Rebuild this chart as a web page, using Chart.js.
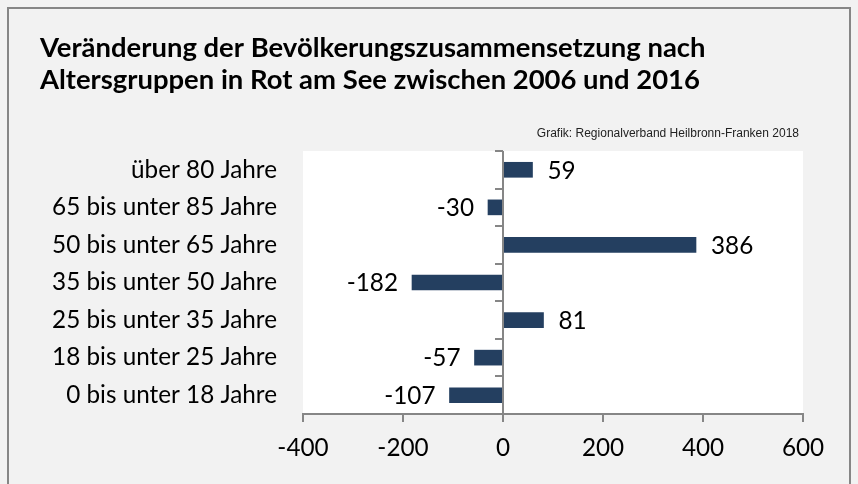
<!DOCTYPE html>
<html>
<head>
<meta charset="utf-8">
<script src="https://cdn.jsdelivr.net/npm/chart.js@4.4.1/dist/chart.umd.min.js"></script>
<style>
  html, body { margin: 0; padding: 0; background: #f2f2f2; }
  #wrap { width: 858px; height: 484px; position: relative; }
</style>
</head>
<body>
<div id="wrap"><canvas id="bar-chart"></canvas></div>
<script>
const categories = [
    'über 80 Jahre',
    '65 bis unter 85 Jahre',
    '50 bis unter 65 Jahre',
    '35 bis unter 50 Jahre',
    '25 bis unter 35 Jahre',
    '18 bis unter 25 Jahre',
    '0 bis unter 18 Jahre'
];
const changes = [ 59, -30, 386, -182, 81, -57, -107 ];
const xTicks = [ -400, -200, 0, 200, 400, 600 ];

const titleLines = [
    'Veränderung der Bevölkerungszusammensetzung nach',
    'Altersgruppen in Rot am See zwischen 2006 und 2016'
];
const sourceText = 'Grafik: Regionalverband Heilbronn-Franken 2018';

window.addEventListener( 'load', function () {
    //
    const FAMILY = 'Lato, "Open Sans", sans-serif';
    const AXIS = '#868686';
    const BAR = '#243f60';
    //
    // pick font sizes so the text widths come out like the reference (Calibri)
    const mctx = document.createElement( 'canvas' ).getContext( '2d' );
    function fit( text, weight, target ) {
        mctx.font = weight + ' 100px ' + FAMILY;
        return 100 * target / mctx.measureText( text ).width;
    }
    const titleSize = fit( titleLines[ 0 ], 'bold', 666 );
    const labelSize = fit( categories[ 1 ], 'normal', 225 );
    //
    const decor = {
        id: 'decor',
        beforeDraw( chart ) {
            const { ctx, chartArea: a } = chart;
            ctx.save();
            ctx.fillStyle = '#f2f2f2';
            ctx.fillRect( 0, 0, chart.width, chart.height );
            ctx.strokeStyle = AXIS;
            ctx.lineWidth = 2;
            ctx.strokeRect( 8, 8, 842, 490 );
            ctx.fillStyle = '#ffffff';
            ctx.fillRect( a.left, a.top, a.right - a.left, a.bottom - a.top );
            ctx.restore();
        },
        afterDraw( chart ) {
            const { ctx, chartArea: a } = chart;
            const x = chart.scales.x, y = chart.scales.y;
            ctx.save();
            // zero line with category tick marks
            const x0 = Math.round( x.getPixelForValue( 0 ) );
            ctx.strokeStyle = AXIS;
            ctx.lineWidth = 2;
            ctx.beginPath();
            ctx.moveTo( x0, a.top );
            ctx.lineTo( x0, a.bottom );
            for ( let i = 0; i <= categories.length; i++ ) {
                const yy = Math.round( y.getPixelForValue( i - 0.5 ) );
                ctx.moveTo( x0 - 8, yy );
                ctx.lineTo( x0, yy );
            }
            ctx.stroke();
            // value labels
            ctx.fillStyle = '#000';
            ctx.font = labelSize + 'px ' + FAMILY;
            ctx.textBaseline = 'middle';
            chart.getDatasetMeta( 0 ).data.forEach( function ( bar, i ) {
                const v = changes[ i ];
                if ( v >= 0 ) {
                    ctx.textAlign = 'left';
                    ctx.fillText( String( v ), bar.x + 15, bar.y + 1 );
                } else {
                    ctx.textAlign = 'right';
                    ctx.fillText( String( v ), bar.x - 14, bar.y + 1 );
                }
            });
            // title
            ctx.textAlign = 'left';
            ctx.textBaseline = 'alphabetic';
            ctx.font = 'bold ' + titleSize + 'px ' + FAMILY;
            ctx.fillText( titleLines[ 0 ], 40, 57 );
            ctx.fillText( titleLines[ 1 ], 40, 89 );
            // source
            ctx.textAlign = 'right';
            ctx.fillStyle = '#222';
            ctx.font = '12px "Liberation Sans", Arial, sans-serif';
            ctx.fillText( sourceText, 799, 137 );
            ctx.restore();
        }
    };
    //
    const dataBarChart = {
        labels: categories,
        datasets: [
            {
                data: changes,
                backgroundColor: BAR,
                borderWidth: 0,
                barThickness: 15
            }
        ]
    };
    //
    const optionsBarChart = {
        indexAxis: 'y',
        responsive: false,
        animation: false,
        layout: { padding: { top: 151, right: 55, left: 0, bottom: 0 } },
        plugins: {
            legend: { display: false },
            tooltip: { enabled: false }
        },
        scales: {
            x: {
                min: xTicks[ 0 ],
                max: xTicks[ xTicks.length - 1 ],
                afterBuildTicks: function ( scale ) {
                    scale.ticks = xTicks.map( function ( v ) { return { value: v }; } );
                },
                afterFit: function ( scale ) { scale.height = 70; },
                grid: {
                    drawOnChartArea: false,
                    drawTicks: true,
                    tickLength: 8,
                    color: AXIS,
                    lineWidth: 2
                },
                border: { color: AXIS, width: 2 },
                ticks: {
                    color: '#000',
                    padding: 12,
                    maxRotation: 0,
                    font: { family: FAMILY, size: labelSize }
                }
            },
            y: {
                afterFit: function ( scale ) { scale.width = 303; },
                grid: { display: false, drawTicks: false },
                border: { display: false },
                ticks: {
                    color: '#000',
                    padding: 26,
                    font: { family: FAMILY, size: labelSize }
                }
            }
        }
    };
    //
    const canvas = document.querySelector( '#bar-chart' );
    canvas.width = 858;
    canvas.height = 484;
    new Chart( canvas, {
        type: 'bar',
        data: dataBarChart,
        options: optionsBarChart,
        plugins: [ decor ]
    });
    //
}, false );
</script>
</body>
</html>
